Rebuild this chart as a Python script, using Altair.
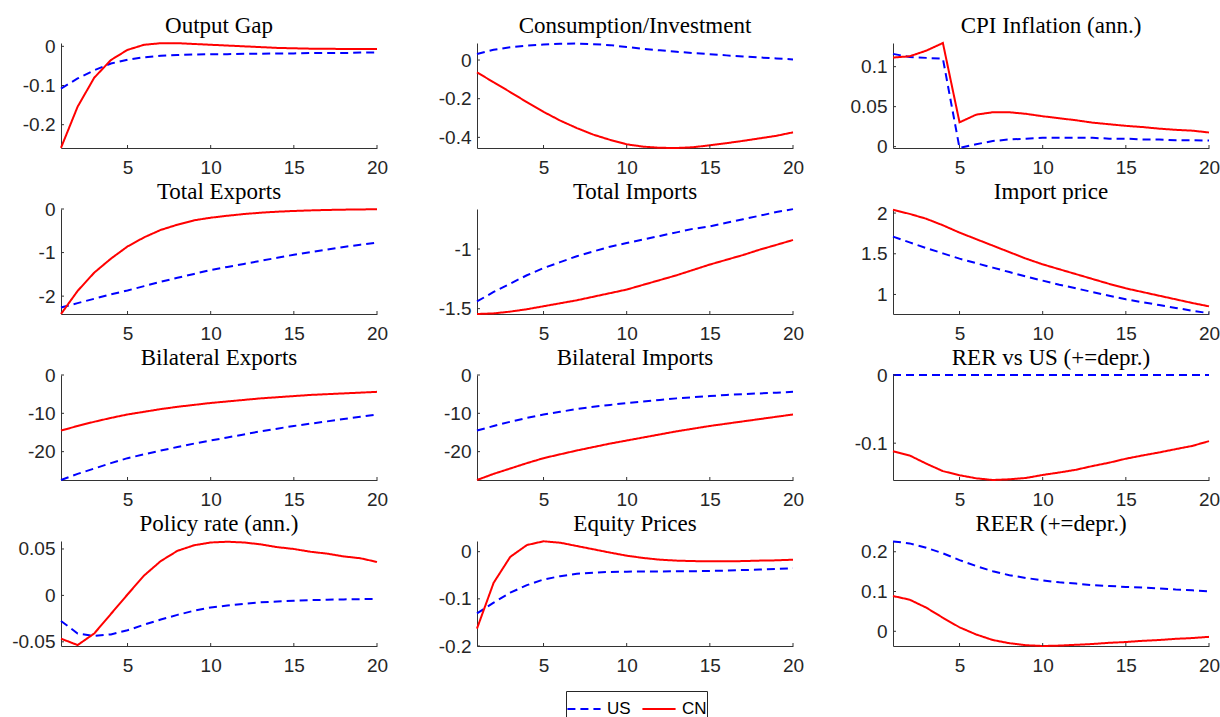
import altair as alt
import pandas as pd

periods = list(range(1, 21))

titles = [
    "Output Gap", "Consumption/Investment", "CPI Inflation (ann.)",
    "Total Exports", "Total Imports", "Import price",
    "Bilateral Exports", "Bilateral Imports", "RER vs US (+=depr.)",
    "Policy rate (ann.)", "Equity Prices", "REER (+=depr.)",
]

us_output_gap = [-0.108, -0.082, -0.061, -0.044, -0.034, -0.028, -0.024, -0.022, -0.021, -0.020,
                 -0.020, -0.019, -0.019, -0.018, -0.018, -0.017, -0.017, -0.017, -0.016, -0.016]
cn_output_gap = [-0.259, -0.154, -0.080, -0.035, -0.009, 0.004, 0.008, 0.008, 0.006, 0.004,
                 0.002, 0.000, -0.002, -0.004, -0.005, -0.006, -0.006, -0.007, -0.007, -0.007]

us_cons = [0.031, 0.053, 0.066, 0.075, 0.080, 0.084, 0.085, 0.082, 0.077, 0.067,
           0.058, 0.050, 0.043, 0.036, 0.030, 0.024, 0.018, 0.013, 0.008, 0.003]
cn_cons = [-0.064, -0.115, -0.166, -0.218, -0.268, -0.313, -0.352, -0.386, -0.413, -0.436,
           -0.448, -0.454, -0.455, -0.451, -0.441, -0.430, -0.418, -0.405, -0.392, -0.374]

us_cpi = [0.116, 0.112, 0.111, 0.110, -0.0017, 0.003, 0.007, 0.009, 0.010, 0.011,
          0.011, 0.011, 0.011, 0.010, 0.010, 0.009, 0.009, 0.008, 0.008, 0.0076]
cn_cpi = [0.1114, 0.113, 0.120, 0.1296, 0.0304, 0.040, 0.043, 0.043, 0.041, 0.038,
          0.0355, 0.033, 0.030, 0.028, 0.026, 0.0245, 0.0225, 0.021, 0.020, 0.0177]

us_tot_exp = [-2.26, -2.16, -2.06, -1.96, -1.87, -1.77, -1.67, -1.58, -1.49, -1.40,
              -1.33, -1.26, -1.19, -1.12, -1.05, -0.99, -0.93, -0.87, -0.82, -0.77]
cn_tot_exp = [-2.41, -1.88, -1.46, -1.14, -0.86, -0.65, -0.48, -0.36, -0.26, -0.20,
              -0.155, -0.116, -0.085, -0.062, -0.045, -0.032, -0.022, -0.015, -0.010, -0.006]

us_tot_imp = [-1.44, -1.36, -1.29, -1.22, -1.16, -1.11, -1.06, -1.02, -0.98, -0.95,
              -0.92, -0.89, -0.86, -0.83, -0.81, -0.78, -0.75, -0.72, -0.69, -0.665]
cn_tot_imp = [-1.545, -1.54, -1.525, -1.505, -1.48, -1.455, -1.43, -1.40, -1.37, -1.34,
              -1.30, -1.26, -1.22, -1.175, -1.13, -1.09, -1.05, -1.005, -0.965, -0.924]

us_imp_price = [1.71, 1.64, 1.57, 1.505, 1.44, 1.385, 1.33, 1.275, 1.22, 1.17,
                1.12, 1.075, 1.03, 0.985, 0.94, 0.905, 0.87, 0.835, 0.80, 0.77]
cn_imp_price = [2.04, 1.99, 1.93, 1.85, 1.76, 1.68, 1.60, 1.52, 1.44, 1.37,
                1.31, 1.25, 1.19, 1.13, 1.075, 1.03, 0.985, 0.94, 0.895, 0.854]

us_bil_exp = [-27.4, -25.8, -24.4, -23.0, -21.7, -20.7, -19.7, -18.8, -17.9, -17.1,
              -16.3, -15.5, -14.7, -14.0, -13.3, -12.7, -12.1, -11.5, -10.9, -10.3]
cn_bil_exp = [-14.5, -13.3, -12.2, -11.2, -10.3, -9.6, -8.9, -8.3, -7.8, -7.3,
              -6.9, -6.5, -6.1, -5.8, -5.5, -5.2, -5.0, -4.8, -4.6, -4.4]

us_bil_imp = [-14.5, -13.3, -12.2, -11.2, -10.3, -9.6, -8.9, -8.3, -7.8, -7.3,
              -6.9, -6.5, -6.1, -5.8, -5.5, -5.2, -5.0, -4.8, -4.6, -4.4]
cn_bil_imp = [-27.4, -25.8, -24.4, -23.0, -21.7, -20.7, -19.7, -18.8, -17.9, -17.1,
              -16.3, -15.5, -14.7, -14.0, -13.3, -12.7, -12.1, -11.5, -10.9, -10.3]

us_rer = [0.0] * 20
cn_rer = [-0.1117, -0.118, -0.130, -0.141, -0.147, -0.1515, -0.154, -0.153, -0.151, -0.1466,
          -0.143, -0.139, -0.1335, -0.1286, -0.1228, -0.118, -0.1136, -0.1087, -0.104, -0.097]

us_policy = [-0.0276, -0.041, -0.0437, -0.042, -0.0376, -0.0315, -0.026, -0.021, -0.0165, -0.013,
             -0.011, -0.009, -0.0075, -0.0065, -0.0057, -0.005, -0.0047, -0.0043, -0.004, -0.004]
cn_policy = [-0.0466, -0.0535, -0.041, -0.020, 0.001, 0.0215, 0.037, 0.048, 0.054, 0.057,
             0.0578, 0.057, 0.055, 0.052, 0.050, 0.047, 0.045, 0.042, 0.040, 0.036]

us_equity = [-0.131, -0.108, -0.087, -0.071, -0.059, -0.052, -0.047, -0.0445, -0.043, -0.0424,
             -0.042, -0.042, -0.0415, -0.0415, -0.041, -0.040, -0.039, -0.038, -0.0365, -0.035]
cn_equity = [-0.163, -0.066, -0.011, 0.014, 0.022, 0.019, 0.012, 0.005, -0.002, -0.0085,
             -0.0134, -0.017, -0.019, -0.020, -0.0205, -0.0205, -0.020, -0.019, -0.0184, -0.017]

us_reer = [0.226, 0.221, 0.210, 0.196, 0.179, 0.164, 0.151, 0.141, 0.134, 0.128,
           0.123, 0.120, 0.116, 0.114, 0.1115, 0.110, 0.108, 0.105, 0.103, 0.100]
cn_reer = [0.0887, 0.0795, 0.0594, 0.034, 0.010, -0.008, -0.022, -0.030, -0.035, -0.037,
           -0.036, -0.034, -0.032, -0.029, -0.027, -0.024, -0.022, -0.019, -0.017, -0.014]

us_series = [us_output_gap, us_cons, us_cpi, us_tot_exp, us_tot_imp, us_imp_price,
             us_bil_exp, us_bil_imp, us_rer, us_policy, us_equity, us_reer]
cn_series = [cn_output_gap, cn_cons, cn_cpi, cn_tot_exp, cn_tot_imp, cn_imp_price,
             cn_bil_exp, cn_bil_imp, cn_rer, cn_policy, cn_equity, cn_reer]

y_domains = [
    [-0.2595, 0.0085], [-0.455, 0.088], [-0.0017, 0.1296],
    [-2.41, 0.0], [-1.545, -0.664], [0.76, 2.05],
    [-27.4, 0.0], [-27.4, 0.0], [-0.154, 0.0],
    [-0.0545, 0.0586], [-0.2, 0.0226], [-0.037, 0.227],
]
y_ticks = [
    [-0.2, -0.1, 0], [-0.4, -0.2, 0], [0, 0.05, 0.1],
    [-2, -1, 0], [-1.5, -1], [1, 1.5, 2],
    [-20, -10, 0], [-20, -10, 0], [-0.1, 0],
    [-0.05, 0, 0.05], [-0.2, -0.1, 0], [0, 0.1, 0.2],
]
x_ticks = [5, 10, 15, 20]
series_names = ["US", "CN"]
series_colors = ["#0000ff", "#ff0000"]
series_dash = [[8, 5], [1, 0]]

PW, PH = 316, 105
TICK_LEN = 3
TITLE_GAP = 10
AXIS_COLOR = "#333333"
LABEL_FONT = "Liberation Sans"


def panel(i):
    df = pd.DataFrame({
        "t": periods + periods,
        "v": us_series[i] + cn_series[i],
        "s": ["US"] * 20 + ["CN"] * 20,
    })
    legend = alt.Legend(
        title=None, orient="none", legendX=505, legendY=648,
        direction="horizontal", symbolType="stroke", symbolSize=1100,
        symbolStrokeWidth=2, labelFont=LABEL_FONT, labelFontSize=17,
        labelColor="#000000", strokeColor="#262626", fillColor="#ffffff",
        padding=0, columnPadding=7, labelOffset=5,
    )
    xscale = alt.Scale(domain=[1, 20], nice=False, zero=False)
    yscale = alt.Scale(domain=y_domains[i], nice=False, zero=False)
    xaxis = alt.Axis(values=x_ticks, title=None, grid=False, tickSize=0,
                     labelPadding=10, labelFlush=False,
                     labelExpr="toString(datum.value)")
    yaxis = alt.Axis(values=y_ticks[i], title=None, grid=False, tickSize=0,
                     labelPadding=6, labelFlush=False,
                     labelExpr="toString(datum.value)")
    lines = alt.Chart(df).mark_line(strokeWidth=2, clip=False).encode(
        x=alt.X("t:Q", scale=xscale, axis=xaxis),
        y=alt.Y("v:Q", scale=yscale, axis=yaxis),
        color=alt.Color("s:N", scale=alt.Scale(domain=series_names, range=series_colors),
                        legend=legend),
        strokeDash=alt.StrokeDash("s:N", scale=alt.Scale(domain=series_names, range=series_dash),
                                  legend=legend),
    )
    xt = alt.Chart(pd.DataFrame({"xt": x_ticks})).mark_rule(
        color=AXIS_COLOR, strokeWidth=1).encode(
        x=alt.X("xt:Q", scale=xscale, axis=xaxis),
        y=alt.value(PH), y2=alt.value(PH - TICK_LEN),
    )
    yt = alt.Chart(pd.DataFrame({"yt": y_ticks[i]})).mark_rule(
        color=AXIS_COLOR, strokeWidth=1).encode(
        y=alt.Y("yt:Q", scale=yscale, axis=yaxis),
        x=alt.value(0), x2=alt.value(TICK_LEN),
    )
    ttl = alt.Chart(pd.DataFrame({"title": [titles[i]]})).mark_text(
        font="Liberation Serif", fontSize=23, color="#000000",
        align="center", baseline="alphabetic").encode(
        text="title:N", x=alt.value(PW / 2), y=alt.value(-TITLE_GAP),
    )
    return alt.layer(lines, xt, yt, ttl).properties(width=PW, height=PH)


chart = alt.concat(*[panel(i) for i in range(12)], columns=3,
                   spacing={"row": 61, "column": 100}, bounds="flush").properties(
    padding={"left": 11, "top": 15, "right": 0, "bottom": 0}
).configure_view(stroke=None).configure_axis(
    domainColor=AXIS_COLOR, domainWidth=1, labelFont=LABEL_FONT, labelFontSize=19,
    labelColor="#262626",
)

chart.save("out.html", embed_options={"renderer": "svg", "actions": False})
